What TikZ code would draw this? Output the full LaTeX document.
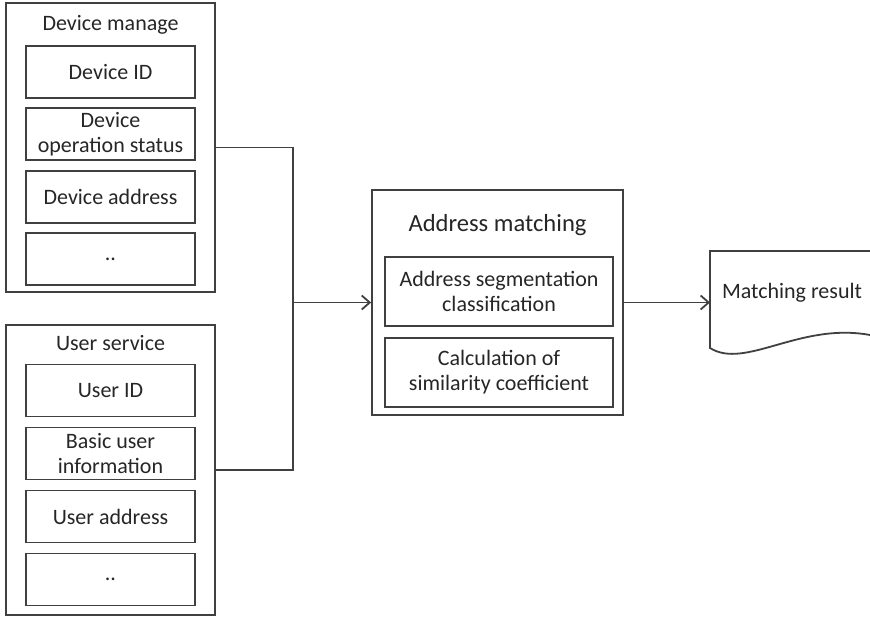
\documentclass[tikz,border=0pt]{standalone}
\usepackage{fontspec}
\setmainfont{Carlito}
\usetikzlibrary{arrows.meta}

\begin{document}
\begin{tikzpicture}[
    x=0.5pt, y=-0.5pt,
    every node/.style={
        font=\fontsize{11}{12.5}\selectfont,
        text=black!85,
        inner sep=1pt
    },
    group/.style={
        draw=black!75,
        line width=0.9pt,
        minimum width=104.5pt,
        minimum height=144.5pt
    },
    item/.style={
        draw=black!75,
        line width=0.9pt,
        minimum width=84.5pt,
        minimum height=26pt,
        align=center
    },
    step item/.style={
        item,
        minimum width=114pt,
        minimum height=34.5pt
    },
    link/.style={draw=black!75, line width=0.9pt},
    flow/.style={link, -{Straight Barb[length=4pt,width=7pt]}}
]
\useasboundingbox (0,0) rectangle (870,616);

% device manage
\node[group] (dev) at (110.5,147.5) {};
\node (devtitle) at (110.5,25) {Device manage};
\node[item] (devid) at (110.5,72) {Device ID};
\node[item] (devstat) at (110.5,134) {Device\\operation status};
\node[item] (devaddr) at (110.5,197) {Device address};
\node[item] (devmore) at (110.5,259) {..};

% user service
\node[group, minimum height=145pt] (usr) at (110.5,470) {};
\node (usrtitle) at (110.5,343) {User service};
\node[item] (usrid) at (110.5,390.5) {User ID};
\node[item] (usrinfo) at (110.5,453.5) {Basic user\\information};
\node[item] (usraddr) at (110.5,516.5) {User address};
\node[item] (usrmore) at (110.5,579.5) {..};

% address matching
\node[group, minimum width=125.5pt, minimum height=112.5pt] (match) at (497.5,302.5) {};
\node[font=\fontsize{12.3}{14}\selectfont] (matchtitle) at (497.5,225) {Address matching};
\node[step item] (seg) at (499,291.5) {Address segmentation\\classification};
\node[step item] (coef) at (499,372.5) {Calculation of\\similarity coefficient};

% matching result
\draw[link] (870,251) -- (710,251) -- (710,348)
    .. controls (745,370) and (800,322) .. (870,335);
\node (res) at (792,293) {Matching result};
\coordinate (resin) at (710,302.5);

% connectors
\coordinate (join) at (293,302.5);
\draw[link] (dev.east) -| (join);
\draw[link] (usr.east) -| (join);
\draw[flow] (join) -- (match.west);
\draw[flow] (match.east) -- (resin);

\end{tikzpicture}
\end{document}
